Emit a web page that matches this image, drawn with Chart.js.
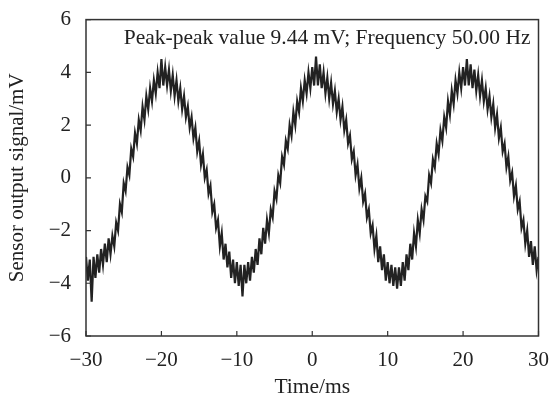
<!DOCTYPE html>
<html>
<head>
<meta charset="utf-8">
<script src="https://cdn.jsdelivr.net/npm/chart.js@4"></script>
<style>
    html, body { margin: 0; padding: 0; background: #fff; }
    #wrap { width: 553px; height: 402px; }
</style>
</head>
<body>
<div id="wrap"><canvas id="signalChart"></canvas></div>
<script>
const startTime = -30;
const sampleStep = 0.25;
const signalValues = [
    -3.0, -3.9, -3.1, -4.7, -3.0, -3.8, -2.9, -3.6, -2.7, -3.3, -2.5, -3.2, -2.3, -2.9, -2.2, -2.6,
    -1.7, -2.0, -1.0, -1.3, -0.2, -0.5, 0.4, 0.1, 1.1, 0.8, 1.7, 1.3, 2.2, 1.8, 2.7, 2.2,
    3.1, 2.6, 3.4, 2.9, 3.7, 3.2, 4.0, 3.4, 4.5, 3.5, 4.2, 3.5, 4.1, 3.3, 3.9, 3.1,
    3.7, 2.9, 3.4, 2.6, 3.1, 2.3, 2.7, 1.9, 2.3, 1.5, 1.9, 1.0, 1.4, 0.5, 0.9, 0.0,
    0.3, -0.6, -0.3, -1.3, -1.0, -1.9, -1.6, -2.6, -2.1, -3.1, -2.5, -3.4, -2.8, -3.8, -3.1, -4.0,
    -3.2, -4.1, -3.3, -4.5, -3.3, -4.0, -3.2, -3.9, -3.0, -3.6, -2.7, -3.3, -2.3, -2.9, -1.9, -2.5,
    -1.6, -2.1, -1.2, -1.5, -0.5, -0.8, 0.1, -0.2, 0.8, 0.5, 1.4, 1.1, 2.0, 1.6, 2.5, 2.0,
    2.9, 2.5, 3.4, 2.9, 3.7, 3.2, 4.0, 3.4, 4.2, 3.5, 4.6, 3.5, 4.3, 3.4, 4.0, 3.2,
    3.8, 3.0, 3.6, 2.8, 3.3, 2.5, 3.0, 2.2, 2.7, 1.8, 2.2, 1.3, 1.6, 0.7, 1.0, 0.1,
    0.5, -0.4, 0.0, -0.9, -0.6, -1.5, -1.2, -2.1, -1.8, -2.7, -2.2, -3.2, -2.6, -3.5, -2.9, -3.9,
    -3.2, -4.0, -3.3, -4.1, -3.4, -4.2, -3.4, -4.1, -3.2, -3.9, -2.9, -3.5, -2.5, -3.1, -2.1, -2.6,
    -1.6, -2.1, -1.2, -1.6, -0.7, -0.9, 0.1, -0.2, 0.7, 0.4, 1.3, 0.9, 1.8, 1.4, 2.3, 1.9,
    2.9, 2.4, 3.3, 2.8, 3.7, 3.2, 4.0, 3.4, 4.2, 3.5, 4.5, 3.5, 4.3, 3.4, 4.1, 3.3,
    3.9, 3.1, 3.7, 2.9, 3.4, 2.6, 3.1, 2.3, 2.8, 1.9, 2.4, 1.5, 1.9, 1.0, 1.3, 0.4,
    0.8, -0.1, 0.2, -0.7, -0.3, -1.2, -0.9, -1.9, -1.6, -2.5, -2.0, -3.0, -2.4, -3.3, -2.6, -3.5,
    -3.0
];

const xTicks = [-30, -20, -10, 0, 10, 20, 30];
const yTicks = [-6, -4, -2, 0, 2, 4, 6];
const infoText = 'Peak-peak value 9.44 mV; Frequency 50.00 Hz';

const serif = '"Liberation Serif", "Times New Roman", serif';
const ink = '#222';

const minusSign = (v) => (v < 0 ? '\u2212' + Math.abs(v) : String(v));

// frame, inward ticks and the text inside the plot
const framePlugin = {
    id: 'frame',
    afterDatasetsDraw(chart) {
        const { ctx, chartArea: a, scales } = chart;
        ctx.save();
        ctx.strokeStyle = '#333';
        ctx.lineWidth = 1.5;
        ctx.strokeRect(a.left, a.top, a.right - a.left, a.bottom - a.top);
        ctx.lineWidth = 1.2;
        ctx.beginPath();
        xTicks.forEach(v => {
            const px = scales.x.getPixelForValue(v);
            ctx.moveTo(px, a.bottom);
            ctx.lineTo(px, a.bottom - 5);
        });
        yTicks.forEach(v => {
            const py = scales.y.getPixelForValue(v);
            ctx.moveTo(a.left, py);
            ctx.lineTo(a.left + 5, py);
        });
        ctx.stroke();
        ctx.fillStyle = ink;
        ctx.font = '21.5px ' + serif;
        ctx.textAlign = 'right';
        ctx.textBaseline = 'middle';
        ctx.fillText(infoText, a.right - 8, a.top + 19);
        ctx.restore();
    }
};

function initChart() {
    const ctx = document.getElementById('signalChart').getContext('2d');
    const points = signalValues.map((v, i) => ({ x: startTime + i * sampleStep, y: v }));

    new Chart(ctx, {
        type: 'line',
        data: {
            datasets: [{
                data: points,
                borderColor: ink,
                borderWidth: 2.2,
                pointRadius: 0,
                tension: 0
            }]
        },
        options: {
            responsive: true,
            maintainAspectRatio: false,
            animation: false,
            layout: { padding: { top: 8, right: 6, left: 0, bottom: 0 } },
            plugins: { legend: { display: false }, tooltip: { enabled: false } },
            scales: {
                x: {
                    type: 'linear',
                    min: -30,
                    max: 30,
                    border: { display: false },
                    grid: { display: false },
                    afterBuildTicks: (s) => { s.ticks = xTicks.map(v => ({ value: v })); },
                    afterFit: (s) => { s.height = 66; },
                    ticks: {
                        color: ink,
                        font: { family: serif, size: 21 },
                        padding: 4,
                        maxRotation: 0,
                        callback: minusSign
                    },
                    title: {
                        display: true,
                        text: 'Time/ms',
                        color: ink,
                        font: { family: serif, size: 21.5 },
                        padding: { top: 0, bottom: 2 }
                    }
                },
                y: {
                    min: -6,
                    max: 6,
                    border: { display: false },
                    grid: { display: false },
                    afterBuildTicks: (s) => { s.ticks = yTicks.map(v => ({ value: v })); },
                    afterFit: (s) => { s.width = 86; },
                    ticks: {
                        color: ink,
                        font: { family: serif, size: 21 },
                        padding: 7,
                        callback: minusSign
                    },
                    title: {
                        display: true,
                        text: 'Sensor output signal/mV',
                        color: ink,
                        font: { family: serif, size: 21 },
                        padding: { top: 5, bottom: 0 }
                    }
                }
            }
        },
        plugins: [framePlugin]
    });
}

document.addEventListener('DOMContentLoaded', initChart);
</script>
</body>
</html>
